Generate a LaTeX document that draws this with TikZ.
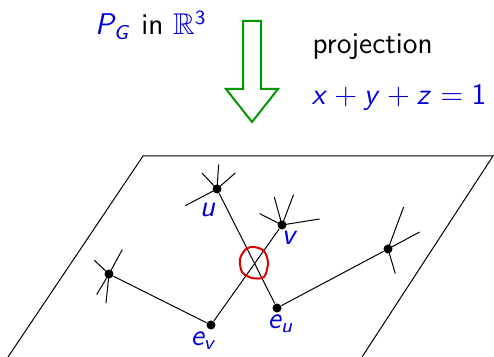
\documentclass[tikz,border=0pt]{standalone}
\usepackage{amsmath,amssymb}
\usepackage{tikz}
\usetikzlibrary{positioning,calc}
\renewcommand{\familydefault}{\sfdefault}
\DeclareSymbolFont{operators}{OT1}{cmss}{m}{n}
\DeclareSymbolFont{letters}{OT1}{cmss}{m}{it}
\SetSymbolFont{operators}{bold}{OT1}{cmss}{bx}{n}
\SetSymbolFont{letters}{bold}{OT1}{cmss}{bx}{it}

\begin{document}
\begin{tikzpicture}[
  x=0.4pt, y=-0.4pt, font=\large,
  vert/.style={circle, fill=black, inner sep=0pt, minimum size=3.6pt},
  lbl/.style={text=blue!85!black, inner sep=1pt},
  stub/.style={line width=0.4pt},
  hollow/.style={draw=green!60!black, line width=0.8pt, line join=miter}
]
  \useasboundingbox (0,0) rectangle (494,357);

  % Top: polytope and projection
  \node[anchor=base] (pg) at (151,35) {$\color{blue!85!black}P_G$ in $\color{blue!85!black}\mathbb{R}^3$};
  \draw[hollow] (243,21) -- (261,21) -- (261,89) -- (278,89) -- (252,122)
    -- (226,89) -- (243,89) -- cycle;
  \node[anchor=base west, inner sep=0pt] (proj) at (312,54) {projection};
  \node[lbl, anchor=west, inner sep=0pt] (plane) at (311,98) {$x+y+z=1$};

  % Plane
  \begin{scope}
    \clip (0,0) rectangle (494,357);
    \draw (8,357) -- (143,156) -- (493,156) -- (362,357);
  \end{scope}

  % Vertices
  \node[vert] (u) at (217,189) {};
  \node[vert] (v) at (282,225) {};
  \node[vert] (l) at (109,274) {};
  \node[vert] (r) at (388,249) {};
  \node[vert] (ev) at (211,325) {};
  \node[vert] (eu) at (277,308) {};

  \node[lbl] at (208,210) {$u$};
  \node[lbl] at (290,238) {$v$};
  \node[lbl] at (281,324) {$e_u$};
  \node[lbl] at (204,341) {$e_v$};

  % Edges
  \draw (u) -- (eu);
  \draw (v) -- (ev);
  \draw (l) -- (ev);
  \draw (r) -- (eu);

  % Stubs
  \foreach \dx/\dy in {1.6/-24.3, -15/-16, 18.3/-16, -31.7/16.7}
    \draw[stub] (u.center) -- ++(\dx,\dy);
  \foreach \dx/\dy in {-7.7/-28, 11.6/-30.4, -22.4/-11.4, 37.6/-6}
    \draw[stub] (v.center) -- ++(\dx,\dy);
  \foreach \dx/\dy in {-14.7/-13.7, 13.3/-24.4, -12.3/20.6, -3/29}
    \draw[stub] (l.center) -- ++(\dx,\dy);
  \foreach \dx/\dy in {15.6/-42, 31.6/-17, 7.3/24.6}
    \draw[stub] (r.center) -- ++(\dx,\dy);

  % Crossing
  \draw[red!85!black, line width=0.8pt] plot[smooth cycle] coordinates
    {(254,247) (264,251) (268,263) (264,277) (252,278) (242,272) (240,259) (246,249)};
\end{tikzpicture}
\end{document}
